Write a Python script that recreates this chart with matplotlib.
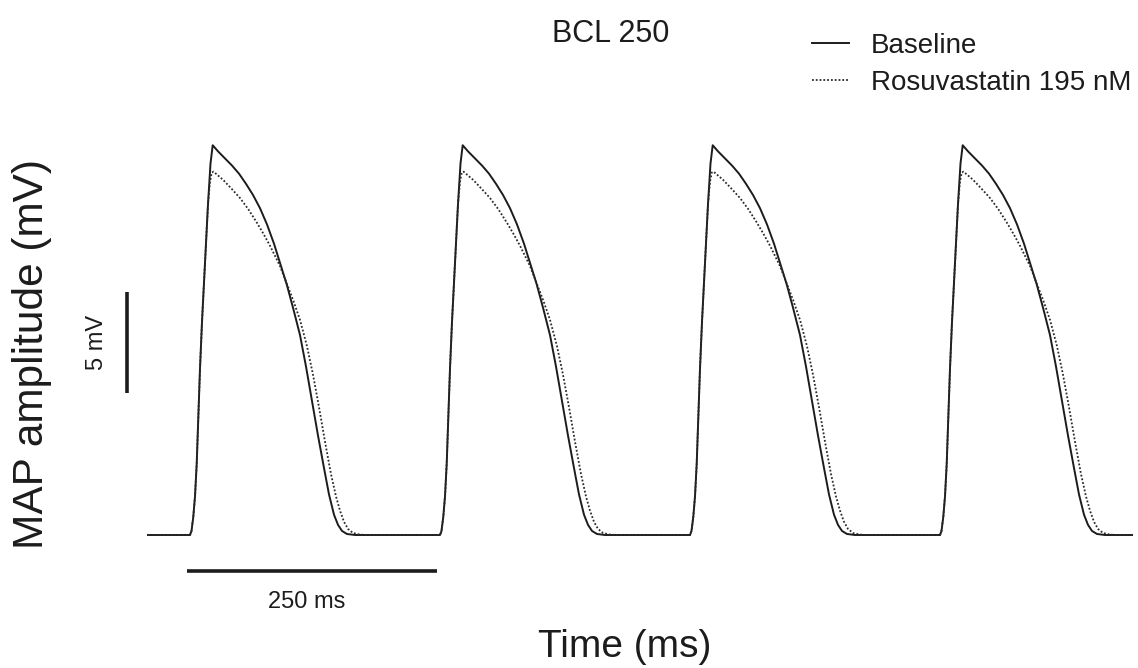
import matplotlib
matplotlib.use("Agg")
import matplotlib.pyplot as plt
import numpy as np

plt.rcParams['font.family'] = ['Liberation Sans', 'DejaVu Sans']

# ---- data ----
title = "BCL 250"
series_labels = ["Baseline", "Rosuvastatin 195 nM"]
bcl_ms = 250
beat_onsets_ms = [0, 250, 500, 750]
trace_start_ms = -42
trace_end_ms = 942

# one beat, time since upstroke onset (ms) and MAP amplitude (mV)
baseline_t = [0, 1.5, 3.3, 5, 6.7, 8.3, 10, 12, 15, 18, 20.5, 22.7, 28, 35, 42, 49, 56, 63, 70,
              77, 84, 90, 96.7, 103, 110, 116, 122, 128, 134, 139, 144, 148, 152, 157, 165, 250]
baseline_mv = [0.0, 0.2, 0.9, 1.9, 3.5, 5.8, 8.2, 10.5, 13.4, 16.3, 18.3, 19.2, 18.9, 18.55, 18.2,
               17.8, 17.3, 16.75, 16.1, 15.3, 14.35, 13.4, 12.35, 11.2, 9.85, 8.3, 6.6, 4.9, 3.3,
               2.0, 1.0, 0.5, 0.2, 0.05, 0.0, 0.0]

rosu_t = [0, 1.5, 3.3, 5, 6.7, 8.3, 10, 12, 15, 18, 20, 21.7, 23.5, 27, 33, 41.7, 50, 58.3, 66.7,
          73.3, 80, 86, 90, 96.7, 103.3, 110, 117, 123, 129, 135, 141, 146, 150, 154, 158, 163,
          170, 176, 250]
rosu_mv = [0.0, 0.2, 0.9, 1.9, 3.5, 5.8, 8.2, 10.5, 13.4, 16.3, 17.4, 17.85, 17.9, 17.75, 17.5,
           17.05, 16.6, 16.05, 15.4, 14.85, 14.25, 13.65, 13.25, 12.4, 11.55, 10.6, 9.3, 7.9, 6.3,
           4.6, 3.0, 1.9, 1.2, 0.65, 0.3, 0.1, 0.02, 0.0, 0.0]

scalebar_time_ms = 250
scalebar_volt_mv = 5


def build_trace(bt, bv):
    t_all = [trace_start_ms]
    v_all = [0.0]
    for onset in beat_onsets_ms:
        for ti, vi in zip(bt, bv):
            tt = onset + ti
            if tt > trace_end_ms:
                break
            if ti == bt[-1] and onset != beat_onsets_ms[-1]:
                continue
            t_all.append(tt)
            v_all.append(vi)
    if t_all[-1] < trace_end_ms:
        t_all.append(trace_end_ms)
        v_all.append(0.0)
    return np.array(t_all), np.array(v_all)


W, H = 1138, 668
fig = plt.figure(figsize=(W / 100, H / 100), dpi=100)
ax = fig.add_axes([0, 0, 1, 1])
px_per_mv = 20.3
ax.set_xlim(-190, W - 190)
ax.set_ylim(-(H - 535) / px_per_mv, 535 / px_per_mv)
ax.axis('off')

tb, vb = build_trace(baseline_t, baseline_mv)
tr, vr = build_trace(rosu_t, rosu_mv)
ink = '#1c1c1c'
l1, = ax.plot(tb, vb, color=ink, lw=1.4, solid_joinstyle='round', label=series_labels[0])
l2, = ax.plot(tr, vr, color='#2a2a2a', lw=1.3, linestyle=(0, (1, 1.1)), label=series_labels[1])

# scale bars
ax.plot([-3, -3 + scalebar_time_ms], [-1.77, -1.77], color=ink, lw=2.6, solid_capstyle='butt')
ax.plot([-63.3, -63.3], [6.98, 6.98 + scalebar_volt_mv], color=ink, lw=2.6, solid_capstyle='butt')


def ftext(x, y, s, **kw):
    fig.text(x / W, 1 - y / H, s, color=ink, **kw)


ftext(611, 34, title, fontsize=22, ha='center', va='center')
ftext(307, 602, f"{scalebar_time_ms} ms", fontsize=17, ha='center', va='center')
ftext(97, 342, f"{scalebar_volt_mv} mV", fontsize=17, ha='center', va='center', rotation=90)
ftext(625, 647, "Time (ms)", fontsize=28, ha='center', va='center')
ftext(32, 354, "MAP amplitude (mV)", fontsize=30.5, ha='center', va='center', rotation=90)

leg = ax.legend(handles=[l1, l2], loc='upper left', bbox_to_anchor=(812 / W, 1 - 33 / H),
                bbox_transform=fig.transFigure, frameon=False, fontsize=20,
                handlelength=1.34, handletextpad=0.78, borderpad=0, borderaxespad=0,
                labelspacing=0.4)
for t in leg.get_texts():
    t.set_color(ink)

fig.savefig("out.png", dpi=100, facecolor='white')
